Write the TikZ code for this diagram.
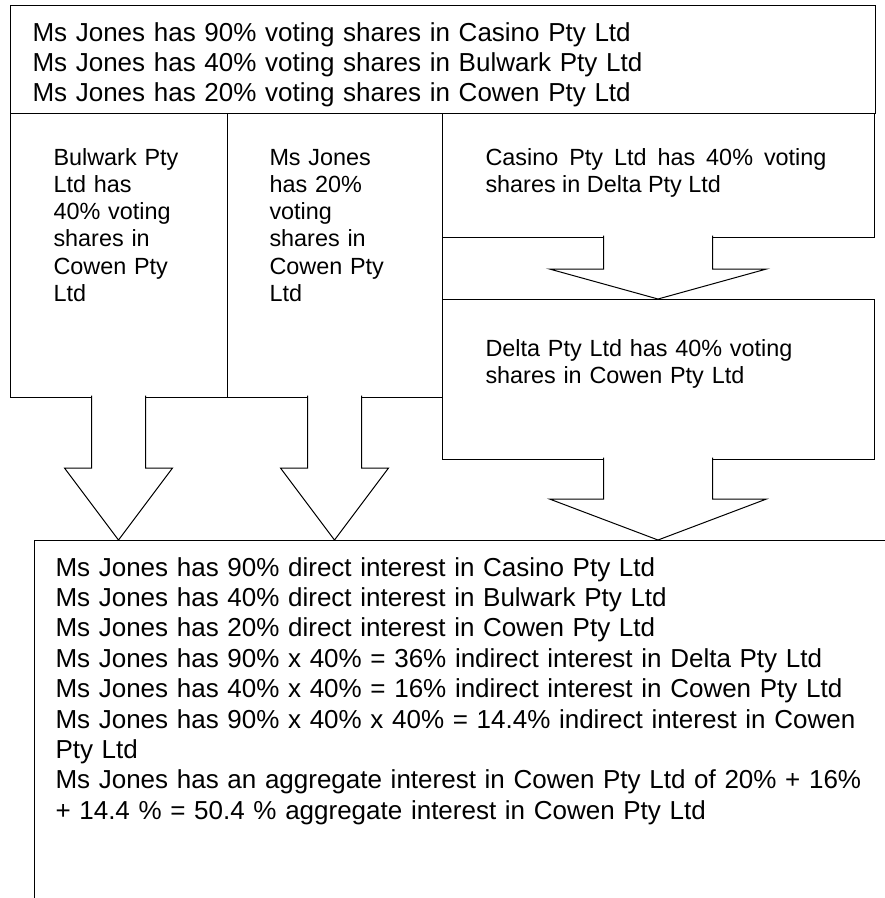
\documentclass[tikz,border=0pt]{standalone}
\usepackage{fontspec}
\setmainfont{Liberation Sans}
\usetikzlibrary{positioning,calc}

\begin{document}
\begin{tikzpicture}[
    x=1pt,y=-1pt,line width=1pt,
    frame/.style={draw,fill=white,outer sep=0pt,inner sep=0pt,anchor=north west},
    bigtxt/.style={anchor=base west,inner sep=0pt,align=left,
      font=\fontsize{26.0}{30.4}\selectfont},
    smalltxt/.style={anchor=base west,inner sep=0pt,align=left,
      font=\fontsize{23.4}{27.3}\selectfont},
    blockarrow/.style={draw,fill=white,line join=miter}
  ]
    \useasboundingbox (0,0) rectangle (885,898);

    \node[frame,minimum width=865pt,minimum height=108pt] (top) at (10,5) {};
    \node[frame,minimum width=217pt,minimum height=284pt] (bulwark) at (10,113) {};
    \node[frame,minimum width=215pt,minimum height=284pt] (ms) at (227,113) {};
    \node[frame,minimum width=432pt,minimum height=124pt] (casino) at (442,113) {};
    \node[frame,minimum width=432pt,minimum height=160pt] (delta) at (442,299) {};
    \begin{scope}
      \clip (0,0) rectangle (885,898);
      \node[frame,minimum width=900pt,minimum height=400pt] (result) at (34,540) {};
    \end{scope}

    \node[bigtxt,text width=840pt] (toptxt) at (32,41)
      {Ms Jones has 90\% voting shares in Casino Pty Ltd\\
       Ms Jones has 40\% voting shares in Bulwark Pty Ltd\\
       Ms Jones has 20\% voting shares in Cowen Pty Ltd};
    \node[smalltxt,text width=160pt] (bulwarktxt) at (53,165)
      {Bulwark Pty\\Ltd has\\40\% voting\\shares in\\Cowen Pty\\Ltd};
    \node[smalltxt,text width=160pt] (mstxt) at (269,165)
      {Ms Jones\\has 20\%\\voting\\shares in\\Cowen Pty\\Ltd};
    \node[smalltxt,text width=341pt,align=justify] (casinotxt) at (485,165)
      {Casino Pty Ltd has 40\% voting\linebreak shares in Delta Pty Ltd};
    \node[smalltxt,text width=360pt] (deltatxt) at (485,356)
      {Delta Pty Ltd has 40\% voting\\shares in Cowen Pty Ltd};
    \node[bigtxt,text width=880pt] (resulttxt) at (55,576)
      {Ms Jones has 90\% direct interest in Casino Pty Ltd\\
       Ms Jones has 40\% direct interest in Bulwark Pty Ltd\\
       Ms Jones has 20\% direct interest in Cowen Pty Ltd\\
       Ms Jones has 90\% x 40\% = 36\% indirect interest in Delta Pty Ltd\\
       Ms Jones has 40\% x 40\% = 16\% indirect interest in Cowen Pty Ltd\\
       Ms Jones has 90\% x 40\% x 40\% = 14.4\% indirect interest in Cowen\\
       Pty Ltd\\
       Ms Jones has an aggregate interest in Cowen Pty Ltd of 20\% + 16\%\\
       + 14.4 \% = 50.4 \% aggregate interest in Cowen Pty Ltd};

    % block arrows, open at the top so they merge into the box above
    \path[blockarrow] ([xshift=-27pt,yshift=1.5pt]bulwark.south) -- ++(0,72.5) -- ++(-27,0)
      -- (bulwark.south |- result.north) -- ++(54,-72) -- ++(-27,0)
      -- ([xshift=27pt,yshift=1.5pt]bulwark.south);
    \path[blockarrow] ([xshift=-27pt,yshift=1.5pt]ms.south) -- ++(0,72.5) -- ++(-27,0)
      -- (ms.south |- result.north) -- ++(54,-72) -- ++(-27,0)
      -- ([xshift=27pt,yshift=1.5pt]ms.south);
    \path[blockarrow] ([xshift=-54.5pt,yshift=1.5pt]casino.south) -- ++(0,33.5) -- ++(-54,0)
      -- (delta.north) -- ++(108.5,-30) -- ++(-54,0)
      -- ([xshift=54.5pt,yshift=1.5pt]casino.south);
    \path[blockarrow] ([xshift=-54.5pt,yshift=1.5pt]delta.south) -- ++(0,41.5) -- ++(-54,0)
      -- (delta.south |- result.north) -- ++(108.5,-41) -- ++(-54,0)
      -- ([xshift=54.5pt,yshift=1.5pt]delta.south);
\end{tikzpicture}
\end{document}
